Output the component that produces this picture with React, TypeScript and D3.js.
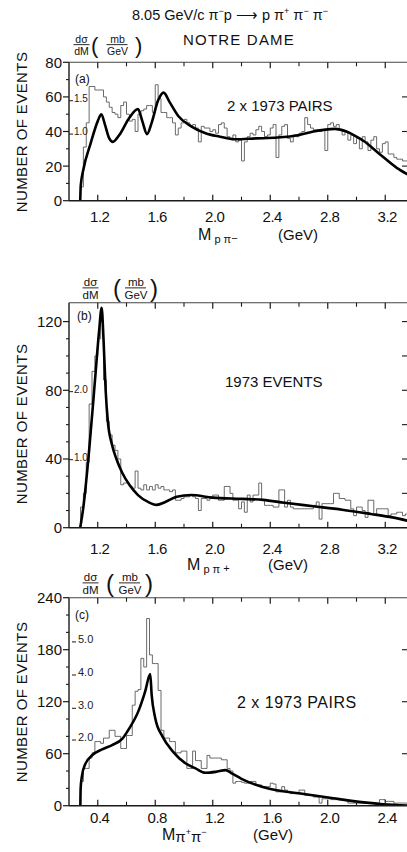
import React from "react";
import * as d3 from "d3";

const FONT = "'Liberation Sans', Arial, sans-serif";
const BIN_WIDTH = 0.02;
const X_LEFT = 69;
const X_RIGHT = 407;
const PX_PER_GEV = 143.75;

// ---------- Panel (a): M(p pi-) ----------
const histStartA = 1.08;
const histA = [
  8, 31, 45, 66, 66, 64, 64, 64, 60, 57,
  54, 51, 50, 48, 55, 57, 50, 46, 47, 40,
  50, 52, 53, 55, 55, 51, 67, 59, 51, 51,
  48, 48, 45, 38, 42, 45, 47, 45, 43, 44,
  42, 34, 43, 42, 42, 40, 41, 39, 44, 45,
  42, 37, 36, 38, 34, 35, 23, 34, 37, 39,
  38, 41, 43, 40, 37, 38, 42, 44, 25, 38,
  43, 44, 36, 34, 38, 37, 39, 40, 48, 44,
  42, 41, 41, 40, 41, 29, 44, 45, 43, 44,
  41, 38, 40, 35, 38, 33, 36, 30, 37, 34,
  29, 35, 37, 30, 28, 33, 34, 27, 27, 25,
  24, 24, 23, 23,
];
const fitMassA = [1.078, 1.082, 1.1, 1.15, 1.2, 1.225, 1.25, 1.28, 1.305, 1.35, 1.42, 1.48, 1.51, 1.543, 1.575, 1.62, 1.658, 1.7, 1.76, 1.85, 1.95, 2.05, 2.15, 2.3, 2.45, 2.6, 2.7, 2.85, 2.93, 3.0, 3.05, 3.16, 3.28, 3.36];
const fitEventsA = [0, 9, 18, 33, 46, 50, 44, 36, 34, 38, 48, 53, 46, 38.5, 45, 58, 62.5, 57, 49, 43, 39, 37, 35.5, 36, 36.5, 38, 40, 41.5, 40, 37, 34.5, 27, 19, 15];
const xMajorA = [1.2, 1.6, 2.0, 2.4, 2.8, 3.2];
const xMinorA = [1.4, 1.8, 2.2, 2.6, 3.0];
const yMajorA = [0, 20, 40, 60, 80];
const yMinorA = [10, 30, 50, 70];
const yRightA = [20, 40, 60];
const sigmaLabelsA = ["1.5", "1.0"];
const sigmaEventsA = [57.8, 38.5];

// ---------- Panel (b): M(p pi+) ----------
const histStartB = 1.08;
const histB = [
  12, 20, 38, 72, 91, 100, 110, 120, 86, 62,
  54, 48, 45, 40, 25, 26, 26, 24, 23, 33,
  23, 22, 25, 22, 24, 22, 25, 23, 24, 22,
  22, 21, 22, 16, 16, 17, 18, 18, 19, 18,
  17, 10, 17, 17, 16, 17, 19, 19, 16, 16,
  24, 24, 20, 16, 16, 11, 15, 9, 19, 15,
  19, 19, 26, 16, 13, 13, 13, 12, 12, 22,
  22, 12, 16, 12, 11, 11, 11, 11, 11, 11,
  11, 13, 15, 5, 14, 14, 14, 14, 20, 20,
  17, 17, 16, 16, 11, 7, 12, 12, 10, 6,
  16, 16, 8, 11, 11, 11, 11, 7, 8, 8,
  9, 9, 7, 8,
];
const fitMassB = [1.078, 1.1, 1.14, 1.18, 1.21, 1.227, 1.24, 1.255, 1.27, 1.3, 1.33, 1.37, 1.42, 1.48, 1.55, 1.61, 1.67, 1.75, 1.85, 2.0, 2.2, 2.35, 2.5, 2.7, 2.9, 3.1, 3.25, 3.36];
const fitEventsB = [0, 12, 45, 85, 115, 128, 110, 80, 62, 48, 40, 32, 25, 19, 15, 13.3, 15, 18, 19, 17.5, 16.8, 16.2, 14.5, 12.5, 10.5, 8, 6, 4];
const xMajorB = [1.2, 1.6, 2.0, 2.4, 2.8, 3.2];
const xMinorB = [1.4, 1.8, 2.2, 2.6, 3.0];
const yMajorB = [0, 40, 80, 120];
const yMinorB = [10, 20, 30, 50, 60, 70, 90, 100, 110];
const yRightB = [20, 40, 60, 80, 100, 120];
const sigmaLabelsB = ["2.0", "1.0"];
const sigmaEventsB = [79.2, 39.6];

// ---------- Panel (c): M(pi+ pi-) ----------
const histStartC = 0.28;
const histC = [
  28, 43, 43, 55, 61, 74, 74, 72, 78, 78,
  87, 87, 80, 80, 66, 66, 81, 81, 116, 132,
  134, 170, 160, 216, 174, 164, 164, 133, 87, 78,
  78, 74, 74, 61, 61, 63, 63, 43, 43, 63,
  52, 52, 43, 43, 58, 55, 55, 55, 55, 53,
  53, 43, 40, 26, 28, 28, 27, 26, 26, 28,
  28, 24, 24, 22, 22, 22, 26, 25, 16, 16,
  22, 18, 16, 14, 14, 14, 18, 18, 12, 12,
  12, 10, 10, 3, 8, 8, 8, 7, 7, 7,
  7, 7, 7, 3, 3, 3, 3, 3, 3, 3,
  3, 3, 3, 3, 7, 7, 5, 5, 5, 3,
  3, 3, 3, 3,
];
const fitMassC = [0.279, 0.281, 0.29, 0.313, 0.36, 0.43, 0.5, 0.57, 0.615, 0.685, 0.73, 0.765, 0.775, 0.8, 0.85, 0.92, 1.01, 1.08, 1.15, 1.22, 1.29, 1.335, 1.4, 1.58, 1.81, 2.04, 2.27, 2.39, 2.57];
const fitEventsC = [0, 20, 34, 48, 58, 65, 70, 77, 88, 110, 132, 152, 128, 101, 80, 63, 49, 43, 38, 39, 41, 37, 31, 20, 14, 8.5, 3.5, 1.5, 0];
const xMajorC = [0.4, 0.8, 1.2, 1.6, 2.0, 2.4];
const xMinorC = [0.6, 1.0, 1.4, 1.8, 2.2];
const yMajorC = [0, 60, 120, 180, 240];
const yMinorC = [20, 40, 80, 100, 140, 160, 200, 220];
const yRightC = [60, 120, 180];
const sigmaLabelsC = ["5.0", "4.0", "3.0", "2.0"];
const sigmaEventsC = [189, 150.8, 112.4, 75.8];

type Panel = {
  id: string;
  hist: number[];
  histStart: number;
  fitX: number[];
  fitY: number[];
  xStart: number;
  yDomain: [number, number];
  yRange: [number, number];
  xMajor: number[];
  xMinor: number[];
  yMajor: number[];
  yMinor: number[];
  yRight: number[];
  sigmaLabels: string[];
  sigmaEvents: number[];
  sigmaDash: boolean;
  sigmaSize: number;
  tickLabelDy: number;
  labelCenter: number;
};

const panels: Panel[] = [
  {
    id: "a", hist: histA, histStart: histStartA, fitX: fitMassA, fitY: fitEventsA,
    xStart: 1.0, yDomain: [0, 80], yRange: [200.7, 62.3],
    xMajor: xMajorA, xMinor: xMinorA, yMajor: yMajorA, yMinor: yMinorA, yRight: yRightA,
    sigmaLabels: sigmaLabelsA, sigmaEvents: sigmaEventsA, sigmaDash: false, sigmaSize: 10,
    tickLabelDy: 21, labelCenter: 132,
  },
  {
    id: "b", hist: histB, histStart: histStartB, fitX: fitMassB, fitY: fitEventsB,
    xStart: 1.0, yDomain: [0, 131], yRange: [527.7, 302.7],
    xMajor: xMajorB, xMinor: xMinorB, yMajor: yMajorB, yMinor: yMinorB, yRight: yRightB,
    sigmaLabels: sigmaLabelsB, sigmaEvents: sigmaEventsB, sigmaDash: false, sigmaSize: 10,
    tickLabelDy: 26, labelCenter: 424,
  },
  {
    id: "c", hist: histC, histStart: histStartC, fitX: fitMassC, fitY: fitEventsC,
    xStart: 0.2, yDomain: [0, 240], yRange: [805.7, 597.7],
    xMajor: xMajorC, xMinor: xMinorC, yMajor: yMajorC, yMinor: yMinorC, yRight: yRightC,
    sigmaLabels: sigmaLabelsC, sigmaEvents: sigmaEventsC, sigmaDash: true, sigmaSize: 11,
    tickLabelDy: 17.5, labelCenter: 702,
  },
];

const fmt = d3.format(".1f");

function PanelView({ p }: { p: Panel }) {
  const x = d3.scaleLinear().domain([p.xStart, p.xStart + (X_RIGHT - X_LEFT) / PX_PER_GEV]).range([X_LEFT, X_RIGHT]);
  const y = d3.scaleLinear().domain(p.yDomain).range(p.yRange);
  const y0 = p.yRange[0];
  const yTop = p.yRange[1];

  const histPts: [number, number][] = [[p.histStart, 0]];
  p.hist.forEach((v, i) => histPts.push([p.histStart + i * BIN_WIDTH, v]));
  histPts.push([p.histStart + p.hist.length * BIN_WIDTH, p.hist[p.hist.length - 1]]);
  const histPath = d3.line<[number, number]>().x(d => x(d[0])).y(d => y(d[1])).curve(d3.curveStepAfter)(histPts) || "";

  const fitPts: [number, number][] = p.fitX.map((m, i) => [m, p.fitY[i]]);
  const fitPath = d3.line<[number, number]>().x(d => x(d[0])).y(d => y(d[1])).curve(d3.curveMonotoneX)(fitPts) || "";

  const clipId = `clip-${p.id}`;
  const ax = "#1a1a1a";
  return (
    <g>
      <defs>
        <clipPath id={clipId}>
          <rect x={X_LEFT} y={yTop} width={X_RIGHT - X_LEFT} height={y0 - yTop} />
        </clipPath>
      </defs>
      <g clipPath={`url(#${clipId})`}>
        <path d={histPath} fill="none" stroke="#5a5a5a" strokeWidth={0.9} />
        <path d={fitPath} fill="none" stroke="#000" strokeWidth={2.6} strokeLinejoin="round" />
      </g>
      <line x1={X_LEFT} x2={X_LEFT} y1={yTop} y2={y0} stroke={ax} strokeWidth={1.4} />
      <line x1={X_LEFT} x2={X_RIGHT} y1={y0} y2={y0} stroke={ax} strokeWidth={1.4} />
      <line x1={X_LEFT} x2={X_RIGHT} y1={yTop} y2={yTop} stroke="#444" strokeWidth={1.1} />
      {p.xMajor.map(v => (
        <g key={`xM${v}`}>
          <line x1={x(v)} x2={x(v)} y1={y0} y2={y0 - 6} stroke={ax} strokeWidth={1.2} />
          <line x1={x(v)} x2={x(v)} y1={yTop} y2={yTop + 6} stroke={ax} strokeWidth={1.2} />
          <text x={x(v) + 2} y={y0 + p.tickLabelDy} textAnchor="middle" fontSize={15} letterSpacing={-0.5} fontFamily={FONT} fill="#111">{fmt(v)}</text>
        </g>
      ))}
      {p.xMinor.map(v => (
        <g key={`xm${v}`}>
          <line x1={x(v)} x2={x(v)} y1={y0} y2={y0 - 4} stroke={ax} strokeWidth={1.1} />
          <line x1={x(v)} x2={x(v)} y1={yTop} y2={yTop + 4} stroke={ax} strokeWidth={1.1} />
        </g>
      ))}
      {p.yMajor.map(v => (
        <g key={`yM${v}`}>
          <line x1={X_LEFT - 6} x2={X_LEFT} y1={y(v)} y2={y(v)} stroke={ax} strokeWidth={1.2} />
          <text x={X_LEFT - 7} y={y(v)} dy="0.36em" textAnchor="end" fontSize={15} fontFamily={FONT} fill="#111">{v}</text>
        </g>
      ))}
      {p.yMinor.map(v => (
        <line key={`ym${v}`} x1={X_LEFT - 3} x2={X_LEFT} y1={y(v)} y2={y(v)} stroke={ax} strokeWidth={1.1} />
      ))}
      {p.yRight.map(v => (
        <line key={`yr${v}`} x1={X_RIGHT - 5} x2={X_RIGHT} y1={y(v)} y2={y(v)} stroke={ax} strokeWidth={1.1} />
      ))}
      {p.sigmaLabels.map((s, i) => (
        <g key={`s${s}`}>
          {p.sigmaDash ? (
            <line x1={X_LEFT + 3} x2={X_LEFT + 7} y1={y(p.sigmaEvents[i])} y2={y(p.sigmaEvents[i])} stroke={ax} strokeWidth={1} />
          ) : (
            <line x1={X_LEFT} x2={X_LEFT + 4} y1={y(p.sigmaEvents[i])} y2={y(p.sigmaEvents[i])} stroke={ax} strokeWidth={1} />
          )}
          <text x={p.sigmaDash ? X_LEFT + 9 : X_LEFT + 5} y={y(p.sigmaEvents[i])} dy="0.1em" fontSize={p.sigmaSize} fontFamily={FONT} fill="#222">{s}</text>
        </g>
      ))}
      <text transform={`translate(27,${p.labelCenter}) rotate(-90)`} textAnchor="middle" fontSize={15} letterSpacing={0.4} fontFamily={FONT} fill="#111">NUMBER OF EVENTS</text>
    </g>
  );
}

function Fraction({ cx, yTop, size, parenL, parenR }: { cx: number; yTop: number; size: number; parenL: number; parenR: number }) {
  const line = yTop + size * 0.25;
  const mbx = (parenL + parenR) / 2;
  return (
    <g fontFamily={FONT} fill="#111">
      <text x={cx} y={line - 2} textAnchor="middle" fontSize={size}>dσ</text>
      <line x1={cx - 8} x2={cx + 8} y1={line} y2={line} stroke="#111" strokeWidth={0.9} />
      <text x={cx} y={line + size * 0.95} textAnchor="middle" fontSize={size}>dM</text>
      <text x={parenL} y={line + size * 0.75} fontSize={size * 2.1} fontWeight={300}>(</text>
      <text x={mbx + 2} y={line - 2} textAnchor="middle" fontSize={size}>mb</text>
      <line x1={mbx - 9} x2={mbx + 12} y1={line} y2={line} stroke="#111" strokeWidth={0.9} />
      <text x={mbx + 2} y={line + size * 0.95} textAnchor="middle" fontSize={size}>GeV</text>
      <text x={parenR - 5} y={line + size * 0.75} fontSize={size * 2.1} fontWeight={300}>)</text>
    </g>
  );
}

export default function App() {
  return (
    <svg width={407} height={852} viewBox="0 0 407 852" style={{ display: "block", position: "absolute", left: 0, top: 0, background: "#fff" }}>
      <rect x={0} y={0} width={407} height={852} fill="#fff" />
      <text x={132} y={20} fontSize={14.5} fontFamily={FONT} fill="#111">
        8.05 GeV/c π<tspan dy={-6} fontSize={9}>−</tspan><tspan dy={6}>p ⟶ p π</tspan>
        <tspan dy={-6} fontSize={9}>+</tspan><tspan dy={6}> π</tspan>
        <tspan dy={-6} fontSize={9}>−</tspan><tspan dy={6}> π</tspan>
        <tspan dy={-6} fontSize={9}>−</tspan>
      </text>
      <text x={183} y={45} fontSize={15} letterSpacing={1.2} fontFamily={FONT} fill="#111">NOTRE DAME</text>

      {panels.map(p => <PanelView key={p.id} p={p} />)}

      <Fraction cx={81.5} yTop={42} size={10.5} parenL={91} parenR={140} />
      <Fraction cx={90.5} yTop={285} size={11.5} parenL={113} parenR={155} />
      <Fraction cx={90.5} yTop={580} size={11.5} parenL={106} parenR={150} />

      <text x={75} y={83} fontSize={12} fontFamily={FONT} fill="#111">(a)</text>
      <text x={77} y={320} fontSize={12} fontFamily={FONT} fill="#111">(b)</text>
      <text x={75} y={619} fontSize={12} fontFamily={FONT} fill="#111">(c)</text>
      <text x={227} y={111} fontSize={15} fontFamily={FONT} fill="#111">2 x 1973 PAIRS</text>
      <text x={225} y={387} fontSize={15} fontFamily={FONT} fill="#111">1973 EVENTS</text>
      <text x={237} y={708} fontSize={16} letterSpacing={0.5} fontFamily={FONT} fill="#111">2 x 1973 PAIRS</text>

      <text x={198} y={240} fontSize={16} fontFamily={FONT} fill="#111">M<tspan dy={3} fontSize={11}> p π</tspan><tspan dy={-1} fontSize={11}>−</tspan></text>
      <text x={278} y={240} fontSize={15} fontFamily={FONT} fill="#111">(GeV)</text>
      <text x={187} y={570} fontSize={16} fontFamily={FONT} fill="#111">M<tspan dy={3} fontSize={11}> p π</tspan><tspan dy={-1} fontSize={11}> +</tspan></text>
      <text x={268} y={570} fontSize={15} fontFamily={FONT} fill="#111">(GeV)</text>
      <text x={162} y={840} fontSize={16} fontFamily={FONT} fill="#111">M<tspan dy={2} fontSize={15}>π</tspan><tspan dy={-7} fontSize={9}>+</tspan><tspan dy={7} fontSize={15}>π</tspan><tspan dy={-7} fontSize={9}>−</tspan></text>
      <text x={253} y={840} fontSize={15} fontFamily={FONT} fill="#111">(GeV)</text>
    </svg>
  );
}
